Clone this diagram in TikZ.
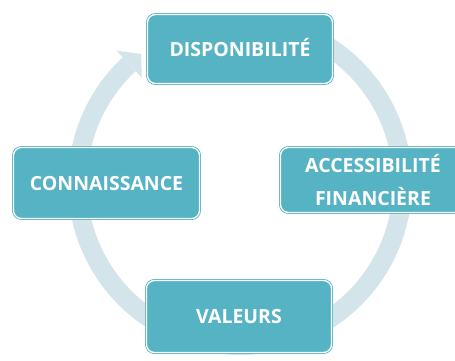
\documentclass[tikz,border=0pt]{standalone}
\usepackage{fontspec}
\setmainfont{Open Sans}
\definecolor{boxc}{HTML}{56B3C4}
\definecolor{ringc}{HTML}{D3E5EB}
\tikzset{
  x=1pt, y=1pt,
  boxbase/.style={rectangle, rounded corners=8pt, fill=boxc, draw=boxc,
    line width=0.8pt, double=white, double distance=1.3pt,
    text=white, font=\fontsize{19.5}{31}\selectfont\bfseries,
    align=center, inner sep=0pt},
  box/.style={boxbase, text height=14pt, text depth=0pt},
  ring/.style={draw=ringc, line width=19pt},
  ringhead/.style={fill=ringc, draw=none}
}
\begin{document}
\begin{tikzpicture}
\useasboundingbox (-240,-177) rectangle (215,183);
% ring arrow
\draw[ring] (75:162.5) arc[start angle=75, end angle=-227, radius=162.5];
\fill[ringhead] (133:181) -- (127.5:162.5) -- (133:144) -- cycle;
% boxes
\node[box, minimum width=185pt, minimum height=69pt] (dispo) at (0,134) {DISPONIBILITÉ};
\node[boxbase, minimum width=185pt, minimum height=65pt] (access) at (133,3) {ACCESSIBILITÉ\\[2pt]FINANCIÈRE};
\node[box, minimum width=186pt, minimum height=71pt] (conn) at (-133.5,0) {CONNAISSANCE};
\node[box, minimum width=185pt, minimum height=72pt] (val) at (-1,-133.5) {VALEURS};
\end{tikzpicture}
\end{document}
